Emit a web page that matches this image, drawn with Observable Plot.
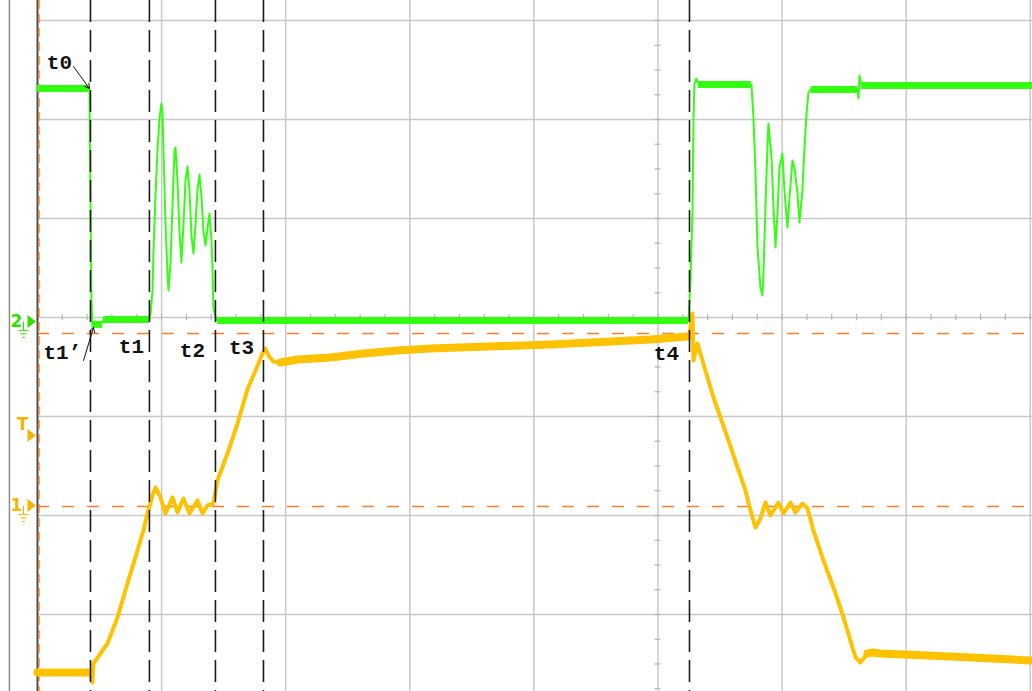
<!DOCTYPE html>
<html>
<head>
<meta charset="utf-8">
<script src="https://cdn.jsdelivr.net/npm/d3@7"></script>
<script src="https://cdn.jsdelivr.net/npm/@observablehq/plot@0.6"></script>
<style>
  html, body { margin: 0; padding: 0; background: #fff; }
  #chart svg { display: block; }
</style>
</head>
<body>
<div id="chart"></div>
<script>
// Scope capture. Units are screen divisions: x counts divisions from the left
// edge of the graticule, y counts divisions from the centre line.

// Graticule
const gridX = [1, 2, 3, 4, 5, 6, 7, 8];
const gridY = [-3, -2, -1, 0, 1, 2, 3];
const centreX = 5;           // vertical centre line carrying minor ticks
const centreY = 0;           // horizontal centre line carrying minor ticks
const screenEdgeX = -0.226;  // bezel line left of the graticule

// Reference cursors (orange dashed) at the channel levels
const refLevels = [-0.162, -1.909];

// Time cursors (black dashed)
const cursorX = [0.427, 0.902, 1.434, 1.821, 5.254];

// Cursor annotations
const timeLabels = [
  { text: "t0",  x: 0.177, y: 2.576 },
  { text: "t1\u2019", x: 0.201, y: -0.354 },
  { text: "t1",  x: 0.757, y: -0.293 },
  { text: "t2",  x: 1.249, y: -0.333 },
  { text: "t3",  x: 1.644, y: -0.303 },
  { text: "t4",  x: 5.068, y: -0.364 }
];
const arrows = [
  { x1: 0.290, y1: 2.535, x2: 0.419, y2: 2.313 },
  { x1: 0.371, y1: -0.434, x2: 0.451, y2: -0.101 }
];

// Channel markers on the left edge
const channelMarkers = [
  { ch: "2", level: -0.040, color: "#33dd00", ground: true },
  { ch: "T", level: -1.192, color: "#f5b400", ground: false },
  { ch: "1", level: -1.899, color: "#f5b400", ground: true }
];

// Channel 2 (green) trace
const ch2 = [
  [0, 2.313], [0.411, 2.313], [0.419, 2.293], [0.427, 1.182], [0.435, 0.172], [0.443, -0.091],
  [0.467, -0.081], [0.524, -0.051], [0.532, -0.02], [0.902, -0.02], [0.911, 0.04], [0.927, 0.273],
  [0.935, 0.677], [0.951, 1.232], [0.967, 1.687], [0.983, 2.01], [0.999, 2.162], [1.007, 2.071],
  [1.015, 1.687], [1.031, 0.98], [1.048, 0.424], [1.056, 0.273], [1.072, 0.556], [1.088, 1.131],
  [1.104, 1.687], [1.112, 1.717], [1.128, 1.384], [1.144, 0.879], [1.16, 0.556], [1.176, 0.929],
  [1.193, 1.384], [1.209, 1.525], [1.225, 1.283], [1.241, 0.828], [1.257, 0.646], [1.273, 0.929],
  [1.289, 1.283], [1.305, 1.444], [1.321, 1.232], [1.337, 0.879], [1.354, 0.727], [1.37, 0.899],
  [1.386, 1.051], [1.402, 0.778], [1.41, 0.505], [1.418, 0.101], [1.434, 0.01], [1.45, -0.03],
  [5.246, -0.03], [5.254, 0.172], [5.262, 0.374], [5.278, 1.051], [5.286, 1.99], [5.294, 2.364],
  [5.31, 2.414], [5.326, 2.364], [5.753, 2.354], [5.77, 2.01], [5.786, 1.455], [5.802, 0.707],
  [5.826, 0.303], [5.842, 0.222], [5.85, 0.444], [5.866, 1.111], [5.882, 1.717], [5.89, 1.96],
  [5.915, 1.616], [5.931, 1.111], [5.947, 0.707], [5.963, 1.051], [5.979, 1.515], [6.003, 1.657],
  [6.019, 1.283], [6.043, 0.909], [6.06, 1.212], [6.084, 1.586], [6.1, 1.515], [6.124, 1.253],
  [6.14, 0.96], [6.164, 1.283], [6.181, 1.717], [6.197, 2.061], [6.213, 2.273], [6.237, 2.313],
  [6.608, 2.303], [6.616, 2.212], [6.624, 2.444], [6.64, 2.343], [8.018, 2.343]
];
// Flat, noisy stretches of channel 2 (drawn as a thick band)
const ch2Flat = [
  { x1: 0, x2: 0.411, y: 2.313 },
  { x1: 0.443, x2: 0.524, y: -0.07 },
  { x1: 0.532, x2: 0.902, y: -0.02 },
  { x1: 1.45, x2: 5.246, y: -0.03 },
  { x1: 5.326, x2: 5.753, y: 2.354 },
  { x1: 6.237, x2: 6.608, y: 2.303 },
  { x1: 6.64, x2: 8.018, y: 2.343 }
];

// Channel 1 (yellow) trace
const ch1 = [
  [0, -3.586], [0.427, -3.586], [0.443, -3.687], [0.451, -3.495], [0.508, -3.394], [0.564, -3.293],
  [0.645, -3.03], [0.725, -2.687], [0.806, -2.354], [0.854, -2.152], [0.886, -1.98], [0.927, -1.798],
  [0.951, -1.717], [0.991, -1.818], [1.031, -1.98], [1.088, -1.818], [1.128, -1.97], [1.176, -1.828],
  [1.225, -1.98], [1.289, -1.848], [1.33, -1.98], [1.37, -1.899], [1.418, -1.879], [1.45, -1.646],
  [1.531, -1.374], [1.612, -1.071], [1.692, -0.727], [1.757, -0.535], [1.813, -0.364], [1.837, -0.313],
  [1.861, -0.384], [1.902, -0.445], [1.958, -0.455], [2.095, -0.424], [2.361, -0.404], [2.627, -0.364],
  [2.901, -0.333], [3.167, -0.313], [4.134, -0.273], [4.94, -0.222], [5.238, -0.192], [5.254, -0.162],
  [5.278, 0.04], [5.286, -0.434], [5.318, -0.263], [5.342, -0.364], [5.399, -0.606], [5.447, -0.808],
  [5.504, -1.01], [5.568, -1.242], [5.641, -1.515], [5.705, -1.747], [5.745, -1.949], [5.786, -2.121],
  [5.826, -2.03], [5.866, -1.869], [5.906, -2.0], [5.971, -1.869], [6.011, -1.98], [6.068, -1.869],
  [6.108, -1.97], [6.164, -1.879], [6.205, -1.929], [6.253, -2.152], [6.334, -2.455], [6.414, -2.727],
  [6.495, -3.03], [6.567, -3.333], [6.592, -3.434], [6.632, -3.485], [6.688, -3.394], [6.736, -3.384],
  [6.793, -3.394], [7.357, -3.424], [8.018, -3.465]
];
// Noisy stretches of channel 1 (index ranges into ch1)
const ch1Noisy = [[0, 1], [32, 40], [70, 74]];

const GREEN = "#33ff11";
const YELLOW = "#ffc200";
const ORANGE = "#f2802c";

// Custom symbols: a right-pointing marker and a ground sign
const rightTriangle = {
  draw(ctx, size) {
    const s = Math.sqrt(size) / 8;
    ctx.moveTo(-4 * s, -6.5 * s);
    ctx.lineTo(4.5 * s, 0);
    ctx.lineTo(-4 * s, 6.5 * s);
    ctx.closePath();
  }
};
const groundSign = {
  draw(ctx, size) {
    const s = Math.sqrt(size) / 8;
    ctx.moveTo(0, 0); ctx.lineTo(0, 9 * s);
    ctx.moveTo(-5 * s, 9 * s); ctx.lineTo(5 * s, 9 * s);
    ctx.moveTo(-3.2 * s, 12.5 * s); ctx.lineTo(3.2 * s, 12.5 * s);
    ctx.moveTo(-1.4 * s, 16 * s); ctx.lineTo(1.4 * s, 16 * s);
  }
};

const minorX = d3.range(0, 8.01, 0.2);
const minorY = d3.range(-3.75, 3.21, 0.25);

const chart = Plot.plot({
  width: 1032,
  height: 691,
  margin: 0,
  x: { domain: [-0.298, 8.018], axis: null },
  y: { domain: [-3.778, 3.202], axis: null },
  style: { background: "#fff" },
  marks: [
    Plot.ruleX([screenEdgeX], { stroke: "#8c8c8c", strokeWidth: 1.5 }),
    Plot.ruleX(gridX, { stroke: "#c8c8c8", strokeWidth: 1.5 }),
    Plot.ruleY(gridY, { x1: 0, x2: 8.018, stroke: "#c8c8c8", strokeWidth: 1.5 }),
    Plot.ruleX(minorX, { x: d => d, y1: centreY, y2: centreY, insetTop: -3, insetBottom: -3, stroke: "#b4b4b4", strokeWidth: 1.2 }),
    Plot.ruleY(minorY, { y: d => d, x1: centreX, x2: centreX, insetLeft: -3, insetRight: -3, stroke: "#b4b4b4", strokeWidth: 1.2 }),
    Plot.ruleY(refLevels, { x1: 0, x2: 8.018, stroke: ORANGE, strokeWidth: 1.5, strokeDasharray: "12,13" }),
    Plot.ruleX([0], { stroke: "#4d4d4d", strokeWidth: 2 }),
    Plot.ruleX([0.012], { stroke: ORANGE, strokeWidth: 1.5, strokeDasharray: "9,5" }),

    // channel 1
    ...ch1Noisy.map(([a, b]) =>
      Plot.line(ch1.slice(a, b + 1), { x: d => d[0], y: d => d[1], stroke: YELLOW, strokeWidth: 8 })),
    Plot.line(ch1, { x: d => d[0], y: d => d[1], stroke: YELLOW, strokeWidth: 4, strokeLinejoin: "round" }),

    // channel 2
    Plot.ruleY(ch2Flat, { x1: "x1", x2: "x2", y: "y", stroke: GREEN, strokeWidth: 7 }),
    Plot.line(ch2, { x: d => d[0], y: d => d[1], stroke: GREEN, strokeWidth: 2, strokeLinejoin: "round" }),

    // time cursors
    Plot.ruleX(cursorX, { stroke: "#1c1c1c", strokeWidth: 1.6, strokeDasharray: "22,8" }),

    // annotations
    Plot.arrow(arrows, { x1: "x1", y1: "y1", x2: "x2", y2: "y2", stroke: "#111", strokeWidth: 1, headLength: 8 }),
    Plot.text(timeLabels, {
      x: "x", y: "y", text: "text", fill: "#111",
      fontFamily: "Liberation Mono", fontWeight: "bold", fontSize: 21
    }),

    // channel markers
    Plot.dot(channelMarkers, { frameAnchor: "left", dx: 31, y: "level", symbol: rightTriangle, r: 4.5, fill: "color", stroke: "none" }),
    Plot.dot(channelMarkers.filter(d => d.ground), { frameAnchor: "left", dx: 23, y: "level", symbol: groundSign, r: 4.5, fill: "none", stroke: "color", strokeWidth: 1 }),
    Plot.text(channelMarkers.filter(d => d.ch !== "T"), {
      frameAnchor: "left", textAnchor: "middle", dx: 16, y: "level", text: "ch", fill: "color",
      fontFamily: "DejaVu Sans", fontWeight: "bold", fontSize: 17
    }),
    Plot.text(channelMarkers.filter(d => d.ch === "T"), {
      frameAnchor: "left", textAnchor: "middle", dx: 22, dy: -11, y: "level", text: "ch", fill: "color",
      fontFamily: "DejaVu Sans", fontWeight: "bold", fontSize: 17
    })
  ]
});

document.getElementById("chart").append(chart);
</script>
</body>
</html>
